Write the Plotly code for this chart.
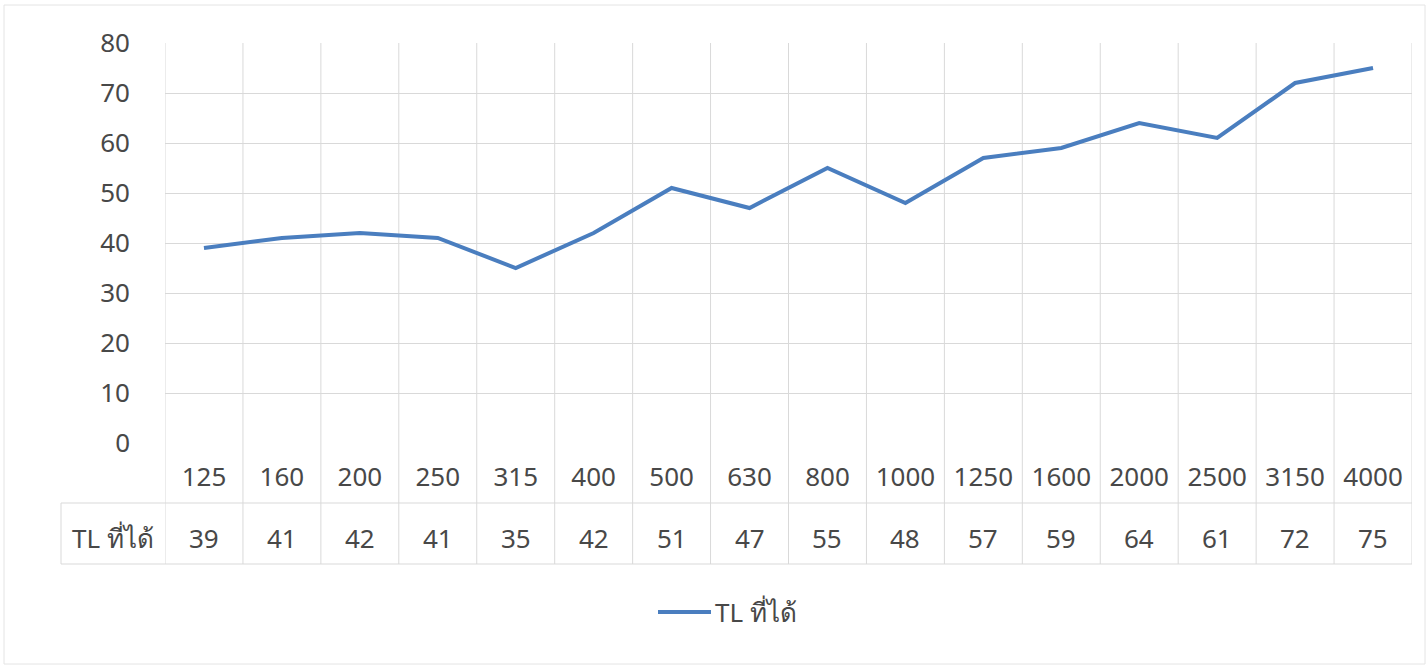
import plotly.graph_objects as go

# Frequency bands (Hz) and measured transmission loss (dB)
frequencies = ["125", "160", "200", "250", "315", "400", "500", "630",
               "800", "1000", "1250", "1600", "2000", "2500", "3150", "4000"]
tl_values = [39, 41, 42, 41, 35, 42, 51, 47, 55, 48, 57, 59, 64, 61, 72, 75]
series_name = "TL ที่ได้"
y_ticks = [0, 10, 20, 30, 40, 50, 60, 70, 80]

W, H = 1427, 666
L, R, T, B = 165, 1412, 43, 443          # plot area in pixels
LINE_COLOR = "#4a7ebf"
GRID = "#d9d9d9"
TEXT = "#484848"
FONT = "Noto Sans, Tahoma, sans-serif"
FS = 26


def px_x(px):
    return (px - L) / (R - L)


def px_y(py):
    return (B - py) / (B - T)


idx = list(range(len(frequencies)))
n = len(frequencies)

fig = go.Figure()
fig.add_trace(go.Scatter(
    x=idx, y=tl_values, mode="lines", name=series_name,
    line=dict(color=LINE_COLOR, width=4), showlegend=False,
))

shapes = []
# vertical gridlines at category boundaries inside the plot
for i in range(n + 1):
    shapes.append(dict(type="line", xref="x", yref="y", x0=i - 0.5, x1=i - 0.5,
                       y0=0, y1=80, line=dict(color=GRID, width=1), layer="below"))
# data table: vertical cell borders below the plot
for i in range(n + 1):
    shapes.append(dict(type="line", xref="x", yref="paper",
                       x0=i - 0.5, x1=i - 0.5, y0=px_y(443), y1=px_y(564),
                       line=dict(color=GRID, width=1)))
# row label column border
shapes.append(dict(type="line", xref="paper", yref="paper",
                   x0=px_x(61), x1=px_x(61), y0=px_y(503), y1=px_y(564),
                   line=dict(color=GRID, width=1)))
# horizontal row borders
for py in (503, 564):
    shapes.append(dict(type="line", xref="paper", yref="paper",
                       x0=px_x(61), x1=1, y0=px_y(py), y1=px_y(py),
                       line=dict(color=GRID, width=1)))
# chart outer border
shapes.append(dict(type="rect", xref="paper", yref="paper",
                   x0=px_x(4), x1=px_x(1425), y0=px_y(5), y1=px_y(664),
                   line=dict(color="#e4e4e4", width=1)))
# legend key line
shapes.append(dict(type="line", xref="paper", yref="paper",
                   x0=px_x(658), x1=px_x(711), y0=px_y(612), y1=px_y(612),
                   line=dict(color=LINE_COLOR, width=4)))

txt_font = dict(size=FS, color=TEXT, family=FONT)
annotations = []
# value row of the data table
for i, v in enumerate(tl_values):
    annotations.append(dict(x=i, xref="x", y=px_y(538), yref="paper",
                            xanchor="center", yanchor="middle",
                            text=str(v), showarrow=False, font=txt_font))
annotations.append(dict(x=px_x(113), xref="paper", y=px_y(538), yref="paper",
                        xanchor="center", yanchor="middle",
                        text=series_name, showarrow=False, font=txt_font))
# legend label
annotations.append(dict(x=px_x(713), xref="paper", y=px_y(612), yref="paper",
                        xanchor="left", yanchor="middle",
                        text=series_name, showarrow=False, font=txt_font))

fig.update_layout(
    width=W, height=H,
    margin=dict(l=L, r=W - R, t=T, b=H - B),
    paper_bgcolor="white", plot_bgcolor="white",
    font=txt_font,
    shapes=shapes, annotations=annotations,
    xaxis=dict(
        type="linear", range=[-0.5, n - 0.5],
        tickmode="array", tickvals=idx, ticktext=frequencies,
        showgrid=False, zeroline=False, showline=False, ticks="",
        ticklabelstandoff=16, tickfont=txt_font,
    ),
    yaxis=dict(
        range=[0, 80], tickmode="array", tickvals=y_ticks,
        showgrid=True, gridcolor=GRID, gridwidth=1,
        zeroline=False, showline=False, ticks="",
        ticklabelstandoff=34, tickfont=txt_font,
    ),
)

fig.write_html("out.html")
